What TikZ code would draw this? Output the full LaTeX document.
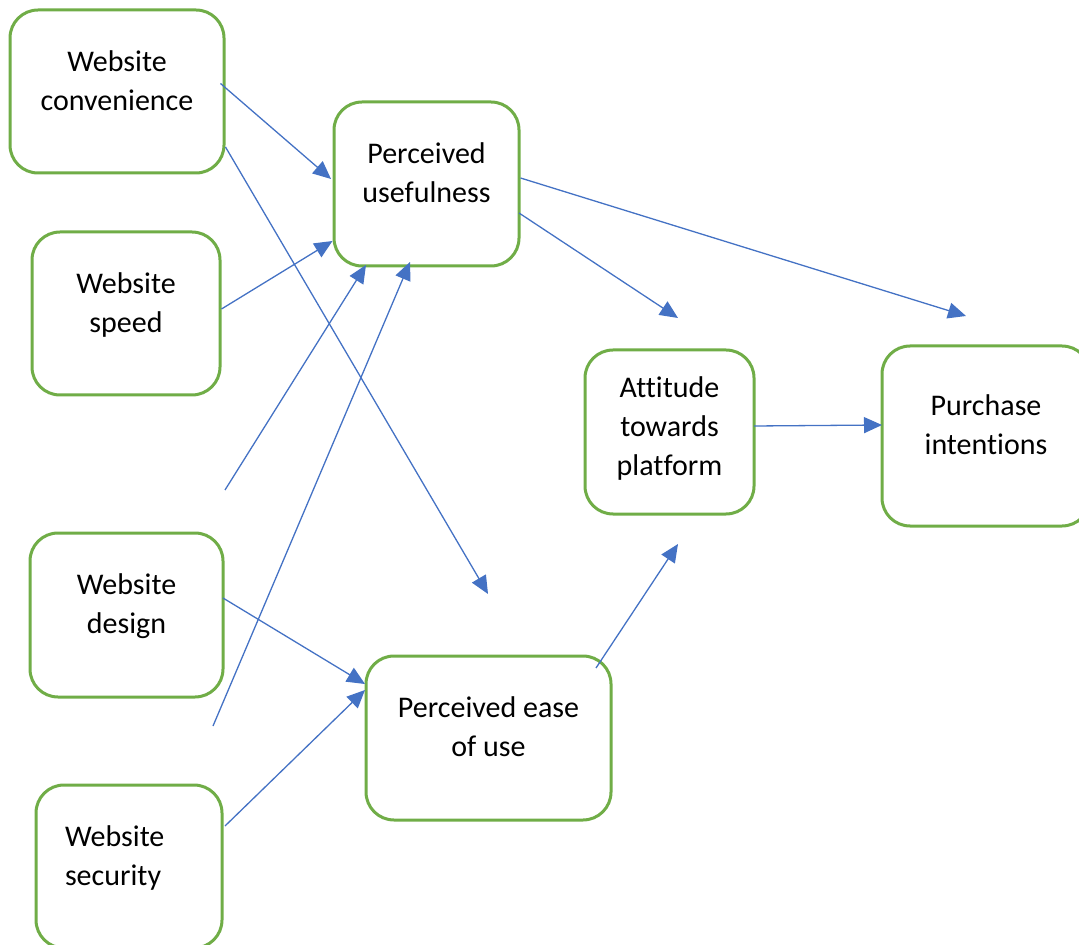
\documentclass[tikz,border=0pt]{standalone}
\usepackage{fontspec}
\setmainfont{Carlito}[Ligatures=CommonOff]
\usepackage{tikz}
\usetikzlibrary{arrows.meta,calc}
\definecolor{boxgreen}{HTML}{70AD47}
\definecolor{linkblue}{HTML}{4472C4}
\tikzset{
  construct/.style={
    draw=boxgreen,
    line width=1.5pt,
    rounded corners=14pt,
    fill=white,
    align=center,
    minimum height=82pt,
    text depth=11pt,
    font=\fontsize{15}{19.5}\selectfont
  },
  flow/.style={-{Triangle[length=9pt,width=8pt]}, draw=linkblue, line width=0.65pt}
}
\begin{document}
\begin{tikzpicture}[x=0.5pt,y=-0.5pt]
  \useasboundingbox (0,0) rectangle (1079,945);
  \node[construct, minimum width=107pt, minimum height=81.5pt] (conv) at (117,91.5) {Website\\convenience};
  \node[construct, minimum width=94pt, minimum height=81.5pt] (speed) at (126,313.5) {Website\\speed};
  \node[construct, minimum width=96.5pt] (design) at (126.5,615) {Website\\design};
  \node[construct, minimum width=93pt, minimum height=81.5pt, text width=64pt, inner xsep=14.5pt, align=left, text depth=30pt] (secur) at (129,866.5) {Website\\security};
  \node[construct, minimum width=92.5pt] (useful) at (426.5,184) {Perceived\\usefulness};
  \node[construct, minimum width=122.5pt] (ease) at (488.5,738) {Perceived ease\\of use};
  \node[construct, minimum width=84.5pt, text depth=6pt] (attit) at (669.5,432) {Attitude\\towards\\platform};
  \node[construct, minimum width=104pt, minimum height=90pt] (purch) at (986,436) {Purchase\\intentions};

  % loose arrow ends
  \coordinate (atease) at (488,594);
  \coordinate (atpurch) at (966,316);
  \coordinate (atattit) at (678,318);
  \coordinate (belowattit) at (678,544);
  \coordinate (abovedesign) at (225,490);
  \coordinate (abovesecur) at (213,726);

  \draw[flow] ($(conv.east)+(-5,-8)$) -- ($(useful.west)+(-1.5,-5)$);
  \draw[flow] ($(conv.east)+(0,55.5)$) -- (atease);
  \draw[flow] ($(speed.east)+(0,-4.5)$) -- ($(useful.west)+(0,57)$);
  \draw[flow] (abovedesign) -- ($(useful.south)+(-60.5,-2.5)$);
  \draw[flow] (abovesecur) -- ($(useful.south)+(-16.5,-5.5)$);
  \draw[flow] ($(design.east)+(-1.5,-17)$) -- ($(ease.west)+(0.5,-54)$);
  \draw[flow] ($(secur.east)+(1.5,-40.5)$) -- ($(ease.west)+(0.5,-48)$);
  \draw[flow] ($(useful.east)+(0,-6)$) -- (atpurch);
  \draw[flow] ($(useful.east)+(-1.5,29)$) -- (atattit);
  \draw[flow] ($(ease.north east)+(-16.5,13.5)$) -- (belowattit);
  \draw[flow] ($(attit.east)+(-1.5,-6)$) -- ($(purch.west)+(1.5,-11)$);
\end{tikzpicture}
\end{document}
